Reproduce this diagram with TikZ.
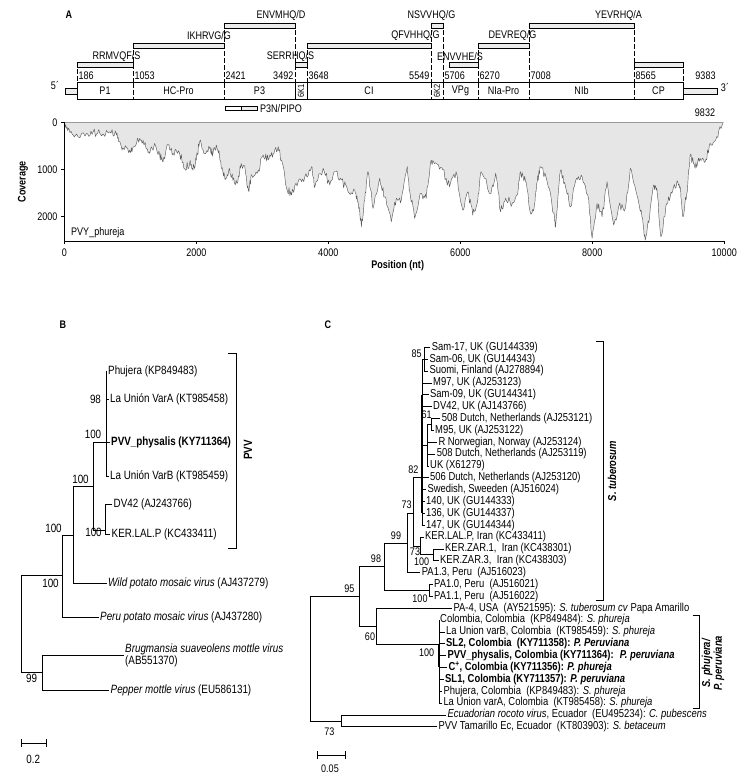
\documentclass[tikz,border=0pt]{standalone}
\usepackage{fontspec}
\setmainfont{Liberation Sans}[FakeStretch=0.82]

\definecolor{covfill}{HTML}{E6E6E6}
\definecolor{covline}{HTML}{5A5A5A}

\tikzset{
  genome/.style={line width=0.5pt},
  cleave/.style={draw, fill=gray!15, line width=0.4pt},
  bound/.style={line width=0.4pt, dash pattern=on 5pt off 2pt},
  site/.style={inner sep=0pt, font=\fontsize{11}{12}\selectfont},
  posnum/.style={inner sep=0pt, font=\fontsize{11}{12}\selectfont},
  prot/.style={inner sep=0pt, font=\fontsize{11}{12}\selectfont},
  panel/.style={inner sep=0pt, font=\bfseries\fontsize{11}{12}\selectfont},
  axlabel/.style={inner sep=0pt, font=\bfseries\fontsize{11}{12}\selectfont},
  branch/.style={line width=0.5pt},
  trunk/.style={line width=1.3pt},
  clade/.style={line width=0.6pt},
  leafB/.style={anchor=west, inner sep=1.5pt, font=\fontsize{12}{11}\selectfont},
  leafC/.style={anchor=west, inner sep=1.5pt, font=\fontsize{11.5}{12}\selectfont},
  bootB/.style={inner sep=0pt, font=\fontsize{12}{13}\selectfont},
  bootC/.style={inner sep=0pt, font=\fontsize{11}{12}\selectfont},
}

\begin{document}
\begin{tikzpicture}[x=1pt, y=-1pt, font=\fontsize{11}{12}\selectfont]
  \useasboundingbox (0,0) rectangle (742,782);

  % ---------------- Panel A: genome map ----------------
  \node[panel] (lblA) at (69,15) {A};

  % cleavage site bars
  \draw[cleave] (77,62)  rectangle (133,67);  % RRMVQF/S
  \draw[cleave] (133,43) rectangle (224,48);  % IKHRVG/G
  \draw[cleave] (224,23) rectangle (295,28);  % ENVMHQ/D
  \draw[cleave] (295,62) rectangle (307,67);  % SERRHQ/S
  \draw[cleave] (307,43) rectangle (431,48);  % QFVHHQ/G
  \draw[cleave] (431,23) rectangle (443,28);  % NSVVHQ/G
  \draw[cleave] (449,62) rectangle (478,67);  % ENVVHE/S
  \draw[cleave] (478,43) rectangle (529,48);  % DEVREQ/G
  \draw[cleave] (529,23) rectangle (634,28);  % YEVRHQ/A
  \draw[cleave] (634,62) rectangle (683,67);  % CP

  \node[site] (sRR) at (116.5,57) {RRMVQF/S};
  \node[site] (sIK) at (209,36)   {IKHRVG/G};
  \node[site] (sEM) at (281,16)   {ENVMHQ/D};
  \node[site] (sSE) at (290.5,57) {SERRHQ/S};
  \node[site] (sQF) at (415.5,36) {QFVHHQ/G};
  \node[site] (sNS) at (431.5,16) {NSVVHQ/G};
  \node[site] (sEV) at (460,57)   {ENVVHE/S};
  \node[site] (sDE) at (512.5,36) {DEVREQ/G};
  \node[site] (sYE) at (618.5,16) {YEVRHQ/A};

  % dashed boundaries
  \foreach \x/\top in {77/62, 133/43, 224/23, 295/23, 307/43, 431/23, 443/23, 478/43, 529/23, 634/23, 683/62}
    \draw[bound] (\x,\top) -- (\x,82.5);
  \foreach \x in {133, 224, 431, 443, 478, 529, 634}
    \draw[bound] (\x,82.5) -- (\x,99.5);
  \draw[genome] (295,82.5) -- (295,99.5) (307,82.5) -- (307,99.5);

  % polyprotein and UTRs
  \draw[genome] (77,82.5) rectangle (683,99.5);
  \draw[genome, fill=gray!15] (65,88.5) rectangle (77,94);
  \draw[genome, fill=gray!15] (683,88.5) rectangle (717,94);
  \node[prot] (utr5) at (55,86) {5´};
  \node[prot] (utr3) at (725,88) {3´};

  % positions
  \node[posnum, anchor=west] at (78.5,75.7)  {186};
  \node[posnum, anchor=west] at (134.5,75.7) {1053};
  \node[posnum, anchor=west] at (225.5,75.7) {2421};
  \node[posnum, anchor=east] at (293.5,75.7) {3492};
  \node[posnum, anchor=west] at (308.5,75.7) {3648};
  \node[posnum, anchor=east] at (429.5,75.7) {5549};
  \node[posnum, anchor=west] at (444.5,75.7) {5706};
  \node[posnum, anchor=west] at (479.5,75.7) {6270};
  \node[posnum, anchor=west] at (530.5,75.7) {7008};
  \node[posnum, anchor=west] at (635.5,75.7) {8565};
  \node[posnum] at (705.5,75.7) {9383};
  \node[posnum] at (705,113) {9832};

  % proteins
  \node[prot] at (105,91)   {P1};
  \node[prot] at (178.5,91) {HC-Pro};
  \node[prot] at (259.5,91) {P3};
  \node[prot, rotate=90, font=\fontsize{9}{10}\selectfont] at (301,91) {6K1};
  \node[prot] at (369,91)   {CI};
  \node[prot, rotate=90, font=\fontsize{9}{10}\selectfont] at (437,91) {6K2};
  \node[prot] at (460.5,91) {VPg};
  \node[prot] at (503.5,91) {NIa-Pro};
  \node[prot] at (581.5,91) {NIb};
  \node[prot] at (658.5,91) {CP};

  % P3N/PIPO
  \draw[genome] (225,106.5) rectangle (241,110);
  \draw[genome, fill=gray!15] (241,106.5) rectangle (257,110);
  \node[prot, anchor=west] (pipo) at (260,108.3) {P3N/PIPO};

  % ---------------- Coverage plot ----------------
  \pgfmathsetseed{11}
  \def\covpath{(0,0)}
  \foreach \p/\c [remember=\p as \lp (initially 0), remember=\c as \lc (initially 0)] in {
    35/128, 86/220, 186/250, 338/235, 438/200, 539/235, 690/200, 791/270, 841/410, 892/553,
    992/590, 1043/520, 1144/340, 1194/375, 1244/553, 1295/660, 1370/447, 1446/695, 1496/837,
    1572/482, 1647/660, 1748/660, 1824/979, 1899/872, 1950/1014, 2000/801, 2050/411, 2126/660,
    2202/553, 2252/660, 2302/482, 2353/730, 2403/1050, 2453/1191, 2504/979, 2554/1227, 2630/1262,
    2680/872, 2745/1050, 2790/1440, 2838/1117, 2939/1011, 3015/693, 3091/799, 3166/664, 3242/517,
    3292/799, 3368/1399, 3443/1541, 3544/1259, 3645/1152, 3745/941, 3796/1365, 3922/975, 4023/1329,
    4098/1047, 4199/1223, 4300/1471, 4401/1435, 4452/1683, 4502/2213, 4552/1647, 4603/1047,
    4678/1823, 4779/1187, 4854/1577, 4955/2107, 5031/1611, 5106/1647, 5197/941, 5232/1435,
    5308/2035, 5409/1505, 5484/1611, 5560/799, 5635/869, 5736/1011, 5837/1365, 5937/1047,
    6038/1859, 6114/1471, 6189/1965, 6265/1647, 6315/1047, 6466/1505, 6536/1081, 6611/1895,
    6687/1611, 6788/1717, 6863/1541, 6914/1047, 6989/1259, 7065/1929, 7115/1859, 7166/1259,
    7216/941, 7317/1259, 7418/1929, 7443/2213, 7519/1011, 7594/1365, 7670/1789, 7761/1187,
    7846/1152, 7947/1647, 7998/2459, 8073/1717, 8149/2001, 8224/1259, 8325/2177, 8400/1789,
    8501/1823, 8576/975, 8677/1541, 8753/2001, 8803/2495, 8869/2001, 8929/1329, 8979/1399,
    9040/2425, 9131/1717, 9206/1505, 9282/1259, 9332/1365, 9372/2001, 9433/1505, 9483/693,
    9558/975, 9634/763, 9710/835, 9785/445, 9886/305, 9985/0}{
    \foreach \k in {1,...,5}{
      \pgfmathsetmacro\px{\lp+(\p-\lp)*\k/6}
      \pgfmathsetmacro\pc{min(2510,max(0,\lc+(\c-\lc)*\k/6+90*rand))}
      \xdef\covpath{\covpath -- (\px,\pc)}
    }
    \xdef\covpath{\covpath -- (\p,\c)}
  }

  \begin{scope}[shift={(64.3,122.3)}, xscale=0.066, yscale=0.0472]
    \edef\covdraw{\noexpand\fill[covfill] \covpath -- cycle;
      \noexpand\draw[covline, line width=0.45pt, line join=round] \covpath;}
    \covdraw
    \draw[gray!80, line width=0.6pt] (0,0) -- (9985,0);
    % axes
    \draw[line width=0.6pt] (0,0) -- (0,2515) -- (10000,2515);
    \foreach \v in {0,1000,2000} {
      \draw[line width=0.5pt] (0,\v) -- (-45,\v);
      \node[posnum, anchor=east] at (-100,\v) {\v};
    }
    \foreach \v in {0,2000,...,10000} {
      \draw[line width=0.5pt] (\v,2515) -- (\v,2580);
      \node[posnum] at (\v,2765) {\v};
    }
  \end{scope}
  \node[axlabel, rotate=90] (covlab) at (23,181.7) {Coverage};
  \node[axlabel] (poslab) at (397.7,265.5) {Position (nt)};
  \node[posnum, anchor=west] (sample) at (71,232.3) {PVY\_phureja};

  % ---------------- Panel B ----------------
  \node[panel] (lblB) at (63,325) {B};

  \coordinate (nbR)   at (21.7,623);
  \coordinate (nb63)  at (62.3,575);
  \coordinate (nb42)  at (42.3,672);
  \coordinate (nb73)  at (73.3,535);
  \coordinate (nb93)  at (93.3,486.7);
  \coordinate (nb106) at (106,442.7);
  \coordinate (nb105) at (105,530);

  \node[leafB] (lbPhu)  at (106.5,371)   {Phujera (KP849483)};
  \node[leafB] (lbVarA) at (108.5,399.3) {La Unión VarA (KT985458)};
  \node[leafB] (lbPhys) at (109.5,442.7) {\textbf{PVV\_physalis (KY711364)}};
  \node[leafB] (lbVarB) at (108.5,476.7) {La Unión VarB (KT985459)};
  \node[leafB] (lbDV)   at (112,504)     {DV42 (AJ243766)};
  \node[leafB] (lbKER)  at (110,534)     {KER.LAL.P (KC433411)};
  \node[leafB] (lbWild) at (106.5,583.3) {\textit{Wild potato mosaic virus} (AJ437279)};
  \node[leafB] (lbPeru) at (98.5,617)    {\textit{Peru potato mosaic virus} (AJ437280)};
  \node[leafB, align=left] (lbBrug) at (123.5,655) {\textit{Brugmansia suaveolens mottle virus}\\(AB551370)};
  \node[leafB] (lbPep)  at (109,690)     {\textit{Pepper mottle virus} (EU586131)};

  \draw[branch] (nbR) |- (nb63);
  \draw[branch] (nbR) |- (nb42);
  \draw[branch] (nb63) |- (nb73);
  \draw[branch] (nb63) |- (lbPeru.west);
  \draw[branch] (nb73) |- (nb93);
  \draw[branch] (nb73) |- (lbWild.west);
  \draw[branch] (nb93) |- (nb106);
  \draw[branch] (nb93) |- (nb105);
  \foreach \l in {lbPhu, lbVarA, lbPhys, lbVarB}
    \draw[branch] (nb106) |- (\l.west);
  \draw[branch] (nb105) |- (lbDV.west);
  \draw[branch] (nb105) |- (lbKER.west);
  \draw[branch] (nb42) |- (lbBrug.west);
  \draw[branch] (nb42) |- (lbPep.west);

  % bootstrap values
  \node[bootB] (bsB1) at (95.5,399.3) {98};
  \node[bootB] (bsB2) at (93,434)     {100};
  \node[bootB] (bsB3) at (80.5,479)   {100};
  \node[bootB] (bsB4) at (53.5,528)   {100};
  \node[bootB] (bsB5) at (93.5,532.7) {100};
  \node[bootB] (bsB6) at (50.5,583)   {100};
  \node[bootB] (bsB7) at (31.7,678.3) {99};

  % clade bracket
  \draw[clade] (228,353) -- (236.7,353) -- (236.7,548.3) -- (228,548.3);
  \node[axlabel, rotate=90, font=\bfseries\fontsize{12}{13}\selectfont] (cladePVV) at (248,450) {PVV};

  % scale bar
  \draw[branch] (21.7,739.3) -- (21.7,747.3) (21.7,743.3) -- (46.7,743.3) (46.7,739.3) -- (46.7,747.3);
  \node[bootB] (scaleB) at (33.3,759.3) {0.2};

  % ---------------- Panel C ----------------
  \node[panel] (lblC) at (328,325) {C};

  \foreach \i/\xx/\txt in {
    1/431.7/{Sam-17, UK (GU144339)},
    2/429.3/{Sam-06, UK (GU144343)},
    3/429.3/{Suomi, Finland (AJ278894)},
    4/433/{M97, UK (AJ253123)},
    5/430/{Sam-09, UK (GU144341)},
    6/433/{DV42, UK (AJ143766)},
    7/441.7/{508 Dutch, Netherlands (AJ253121)},
    8/435/{M95, UK (AJ253122)},
    9/438.3/{R Norwegian, Norway (AJ253124)},
    10/436.7/{508 Dutch, Netherlands (AJ253119)},
    11/430/{UK (X61279)},
    12/430/{506 Dutch, Netherlands (AJ253120)},
    13/427.3/{Swedish, Sweeden (AJ516024)},
    14/426/{140, UK (GU144333)},
    15/426/{136, UK (GU144337)},
    16/426/{147, UK (GU144344)},
    17/425/{KER.LAL.P, Iran (KC433411)},
    18/445/{KER.ZAR.1,~ Iran (KC438301)},
    19/440/{KER.ZAR.3,~ Iran (KC438303)},
    20/421.7/{PA1.3, Peru~ (AJ516023)},
    21/434/{PA1.0, Peru~ (AJ516021)},
    22/434/{PA1.1, Peru~ (AJ516022)},
    23/453.3/{PA-4, USA~ (AY521595): \textit{S. tuberosum cv} Papa Amarillo},
    24/440/{Colombia, Colombia~ (KP849484): \textit{S. phureja}},
    25/446/{La Union varB, Colombia~ (KT985459): \textit{S. phureja}},
    26/446/{\textbf{SL2, Colombia~ (KY711358): \textit{P. Peruviana}}},
    27/447.3/{\textbf{PVV\_physalis, Colombia (KY711364):~ \textit{P. peruviana}}},
    28/448.3/{\textbf{C\textsuperscript{+}, Colombia (KY711356): \textit{P. phureja}}},
    29/445/{\textbf{SL1, Colombia (KY711357): \textit{P. peruviana}}},
    30/443.3/{Phujera, Colombia~ (KP849483): \textit{S. phureja}},
    31/443.3/{La Union varA, Colombia~ (KT985458): \textit{S. phureja}},
    32/447.3/{\textit{Ecuadorian rocoto virus}, Ecuador~ (EU495234): \textit{C. pubescens}},
    33/438.3/{PVV Tamarillo Ec, Ecuador~ (KT803903): \textit{S. betaceum}}}{
    \pgfmathsetmacro\yy{347.3+(\i-1)*11.856}
    \node[leafC] (lc\i) at (\xx-1.5,\yy) {\txt};
  }

  \coordinate (ncR)    at (310,658.5);
  \coordinate (nc95)   at (359.3,596.3);
  \coordinate (nc73e)  at (341.7,720.8);
  \coordinate (nc98)   at (384,566.6);
  \coordinate (nc60)   at (376.7,626);
  \coordinate (nc99)   at (407.3,543);
  \coordinate (nc100p) at (429.3,590.3);
  \coordinate (nc73a)  at (413.3,513.3);
  \coordinate (nc82)   at (422,477.7);
  \coordinate (nc73b)  at (420,545.9);
  \coordinate (nc100z) at (433.3,554.7);
  \coordinate (nc85)   at (424.5,359.2);
  \coordinate (nc61)   at (427.3,445);
  \coordinate (nc61b)  at (431.7,424.3);
  \coordinate (ncCol)  at (439,644);

  \draw[branch] (ncR) |- (nc95);
  \draw[branch] (ncR) |- (nc73e);
  \draw[branch] (nc95) |- (nc98);
  \draw[branch] (nc95) |- (nc60);
  \draw[branch] (nc98) |- (nc99);
  \draw[branch] (nc98) |- (nc100p);
  \draw[branch] (nc99) |- (nc73a);
  \draw[branch] (nc99) |- (lc20.west);
  \draw[branch] (nc73a) |- (nc82);
  \draw[branch] (nc73a) |- (nc73b);
  \draw[branch] (nc82) |- (nc85);
  \draw[branch] (nc82) |- (nc61);
  \foreach \i in {4,5,6,12,13,14,15,16}
    \draw[branch] (nc82) |- (lc\i.west);
  \foreach \i in {1,2,3}
    \draw[branch] (nc85) |- (lc\i.west);
  \draw[branch] (nc61) |- (nc61b);
  \foreach \i in {9,10,11}
    \draw[branch] (nc61) |- (lc\i.west);
  \draw[branch] (nc61b) |- (lc7.west);
  \draw[branch] (nc61b) |- (lc8.west);
  \draw[branch] (nc73b) |- (lc17.west);
  \draw[branch] (nc73b) |- (nc100z);
  \draw[branch] (nc100z) |- (lc18.west);
  \draw[branch] (nc100z) |- (lc19.west);
  \draw[branch] (nc100p) |- (lc21.west);
  \draw[branch] (nc100p) |- (lc22.west);
  \draw[branch] (nc60) |- (lc23.west);
  \draw[branch] (nc60) |- (ncCol);
  \foreach \i in {24,...,31}
    \draw[branch] (ncCol) |- (lc\i.west);
  \draw[branch] (nc73e) |- (lc32.west);
  \draw[branch] (nc73e) |- (lc33.west);
  \draw[trunk] (nc82 |- lc5) -- (nc82 |- lc15);
  \draw[trunk] (ncCol |- lc26) -- (ncCol |- lc28);

  % bootstrap values
  \node[bootC] (bsC1)  at (416.7,353.3) {85};
  \node[bootC] (bsC2)  at (426.7,414.3) {61};
  \node[bootC] (bsC3)  at (413.3,469.3) {82};
  \node[bootC] (bsC4)  at (406.7,505)   {73};
  \node[bootC] (bsC5)  at (396,536)     {99};
  \node[bootC] (bsC6)  at (415,551.7)   {73};
  \node[bootC] (bsC7)  at (421.7,561.7) {100};
  \node[bootC] (bsC8)  at (376,559)     {98};
  \node[bootC] (bsC9)  at (420,598.3)   {100};
  \node[bootC] (bsC10) at (349.3,588.3) {95};
  \node[bootC] (bsC11) at (370,636.7)   {60};
  \node[bootC] (bsC12) at (426.7,652.7) {100};
  \node[bootC] (bsC13) at (329.3,731.7) {73};

  % clade brackets
  \draw[clade] (596,341.7) -- (603.3,341.7) -- (603.3,600.7) -- (596,600.7);
  \node[axlabel, rotate=90, font=\bfseries\itshape\fontsize{11.5}{12}\selectfont] (cladeTub) at (612,471) {S. tuberosum};
  \draw[clade] (693,615) -- (699.3,615) -- (699.3,708.3) -- (693,708.3);
  \node[axlabel, rotate=90, align=center, font=\bfseries\itshape\fontsize{11.5}{9.5}\selectfont] (cladePhu) at (713,663.3) {S. phujera/\\P. peruviana};

  % scale bar
  \draw[branch] (317.3,751) -- (317.3,759) (317.3,755) -- (345,755) (345,751) -- (345,759);
  \node[bootC] (scaleC) at (330,768.3) {0.05};
\end{tikzpicture}
\end{document}
